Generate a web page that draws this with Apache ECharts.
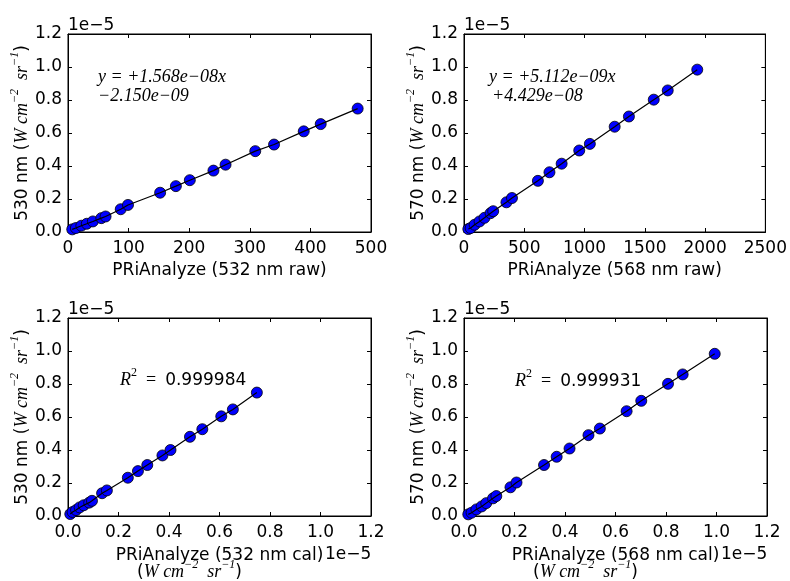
<!DOCTYPE html>
<html>
<head>
<meta charset="utf-8">
<script src="https://cdn.jsdelivr.net/npm/echarts@6/dist/echarts.min.js"></script>
<style>html,body{margin:0;padding:0;background:#fff;}#c{width:790px;height:581px;}</style>
</head>
<body>
<div id="c"></div>
<script>
// values in units of 1e-5 W cm^-2 sr^-1 unless raw
const raw532 = [7, 13, 22, 31, 41, 55, 62, 87, 99, 152, 178, 201, 240, 260, 309, 340, 389, 417, 478];
const y530   = [0.016, 0.024, 0.038, 0.050, 0.064, 0.084, 0.094, 0.138, 0.164, 0.238, 0.278, 0.314, 0.372, 0.408, 0.490, 0.530, 0.610, 0.654, 0.748];
const raw568 = [36, 55, 88, 129, 170, 220, 242, 352, 398, 613, 709, 810, 956, 1044, 1250, 1368, 1574, 1690, 1935];
const y570   = [0.018, 0.024, 0.044, 0.064, 0.086, 0.114, 0.126, 0.180, 0.206, 0.310, 0.362, 0.414, 0.494, 0.534, 0.638, 0.700, 0.802, 0.858, 0.984];
const cal532 = [0.009, 0.018, 0.032, 0.046, 0.062, 0.084, 0.095, 0.135, 0.154, 0.237, 0.277, 0.314, 0.374, 0.406, 0.483, 0.532, 0.607, 0.653, 0.748];
const y530c  = [0.012, 0.024, 0.036, 0.052, 0.065, 0.081, 0.092, 0.138, 0.155, 0.232, 0.272, 0.309, 0.367, 0.400, 0.480, 0.526, 0.604, 0.646, 0.748];
const cal568 = [0.017, 0.030, 0.049, 0.070, 0.088, 0.115, 0.128, 0.184, 0.208, 0.317, 0.367, 0.418, 0.493, 0.538, 0.644, 0.702, 0.808, 0.866, 0.993];
const y570c  = [0.010, 0.020, 0.040, 0.058, 0.078, 0.107, 0.121, 0.174, 0.203, 0.309, 0.359, 0.409, 0.490, 0.530, 0.635, 0.698, 0.801, 0.858, 0.983];

const xTicksTop1 = {min: 0, max: 500, interval: 100};
const xTicksTop2 = {min: 0, max: 2500, interval: 500};
const calTicks = {min: 0, max: 1.2, interval: 0.2};
const yLabel530 = '530 nm';
const yLabel570 = '570 nm';
// unit W cm^-2 sr^-1 written as rich-text tokens
const unitRichText = '{m|W cm}{sup|−2}{m|  sr}{sup|−1}';
const xNames = ['PRiAnalyze (532 nm raw)', 'PRiAnalyze (568 nm raw)', 'PRiAnalyze (532 nm cal)', 'PRiAnalyze (568 nm cal)'];
const fitTexts = [['y = +1.568e−08x', '−2.150e−09'], ['y = +5.112e−09x', '+4.429e−08']];
const r2Values = ['0.999984', '0.999931'];
const offsetText = '1e−5';

const SANS = 'DejaVu Sans';
const MATH = 'Liberation Serif';
const FS = 17;
const grids = [
  {left: 68, top: 34, width: 303, height: 198},
  {left: 464, top: 34, width: 303, height: 198},
  {left: 68, top: 318, width: 303, height: 198},
  {left: 464, top: 318, width: 303, height: 198}
];

const unitRich = {
  s: {fontFamily: SANS, fontSize: FS, color: '#000', lineHeight: 22, verticalAlign: 'bottom'},
  m: {fontFamily: MATH, fontStyle: 'italic', fontSize: 18, color: '#000', lineHeight: 22, verticalAlign: 'bottom'},
  sup: {fontFamily: MATH, fontStyle: 'italic', fontSize: 12, color: '#000', lineHeight: 14, verticalAlign: 'top'}
};

const chart = echarts.init(document.getElementById('c'));
const xTicks = [xTicksTop1, xTicksTop2, calTicks, calTicks];
const xs = [raw532, raw568, cal532, cal568];
const ys = [y530, y570, y530c, y570c];
const yNames = [yLabel530, yLabel570, yLabel530, yLabel570];

function fmt(v, dec) { return dec ? v.toFixed(1) : String(Math.round(v)); }

const xAxes = [], yAxes = [], series = [];
for (let i = 0; i < 4; i++) {
  const t = xTicks[i];
  const dec = i >= 2;
  xAxes.push({
    type: 'value', gridIndex: i, min: t.min, max: t.max, interval: t.interval, position: 'bottom',
    name: xNames[i], nameLocation: 'middle', nameGap: dec ? 31 : 30,
    nameTextStyle: {fontFamily: SANS, fontSize: FS, color: '#000'},
    axisLine: {show: true, onZero: false, lineStyle: {color: '#000', width: 1}},
    axisTick: {show: true, inside: true, length: 4, lineStyle: {color: '#000'}},
    axisLabel: {fontFamily: SANS, fontSize: FS, color: '#000', margin: 8, formatter: v => fmt(v, dec), showMaxLabel: true, showMinLabel: true},
    splitLine: {show: false}
  });
  xAxes.push({
    type: 'value', gridIndex: i, min: t.min, max: t.max, interval: t.interval, position: 'top',
    axisLine: {show: true, onZero: false, lineStyle: {color: '#000', width: 1}},
    axisTick: {show: true, inside: true, length: 4, lineStyle: {color: '#000'}},
    axisLabel: {show: false}, splitLine: {show: false}
  });
  yAxes.push({
    type: 'value', gridIndex: i, min: 0, max: 1.2, interval: 0.2, position: 'left',
    name: '{s|' + yNames[i] + ' (}' + unitRichText + '{s|)}',
    nameLocation: 'middle', nameGap: 36,
    nameTextStyle: {rich: unitRich},
    axisLine: {show: true, onZero: false, lineStyle: {color: '#000', width: 1}},
    axisTick: {show: true, inside: true, length: 4, lineStyle: {color: '#000'}},
    axisLabel: {fontFamily: SANS, fontSize: FS, color: '#000', margin: 6, formatter: v => v.toFixed(1)},
    splitLine: {show: false}
  });
  yAxes.push({
    type: 'value', gridIndex: i, min: 0, max: 1.2, interval: 0.2, position: 'right',
    axisLine: {show: true, onZero: false, lineStyle: {color: '#000', width: 1}},
    axisTick: {show: true, inside: true, length: 4, lineStyle: {color: '#000'}},
    axisLabel: {show: false}, splitLine: {show: false}
  });
  const pts = xs[i].map((x, k) => [x, ys[i][k]]);
  series.push({
    type: 'scatter', xAxisIndex: 2 * i, yAxisIndex: 2 * i, data: pts,
    symbol: 'circle', symbolSize: 11,
    itemStyle: {color: '#0000ff', borderColor: '#000', borderWidth: 0.8, opacity: 1},
    z: 2, silent: true
  });
  series.push({
    type: 'line', xAxisIndex: 2 * i, yAxisIndex: 2 * i, data: pts.slice().sort((a, b) => a[0] - b[0]),
    showSymbol: false, symbol: 'none', lineStyle: {color: '#000', width: 1.2}, z: 3, silent: true, animation: false
  });
}

const graphics = [];
function txt(x, y, style) {
  graphics.push({type: 'text', left: x, top: y, silent: true, style: Object.assign({fill: '#000'}, style)});
}
const sansFont = FS + 'px "' + SANS + '"';
// offset texts
[[68, 17], [464, 17], [68, 301], [464, 301]].forEach(p => txt(p[0], p[1], {text: offsetText, font: sansFont}));
txt(325, 546, {text: offsetText, font: sansFont});
txt(721, 546, {text: offsetText, font: sansFont});
// second-line unit labels under bottom x axes
txt(137, 559, {text: '{s|(}' + unitRichText + '{s|)}', rich: unitRich});
txt(533, 559, {text: '{s|(}' + unitRichText + '{s|)}', rich: unitRich});
// fit equations
const eqFont = 'italic 18px "' + MATH + '"';
txt(98, 68, {text: fitTexts[0][0], font: eqFont});
txt(98, 87, {text: fitTexts[0][1], font: eqFont});
txt(489, 68, {text: fitTexts[1][0], font: eqFont});
txt(492, 87, {text: fitTexts[1][1], font: eqFont});
// R^2
const r2rich = {
  r: {fontFamily: MATH, fontStyle: 'italic', fontSize: 18, lineHeight: 22, verticalAlign: 'bottom'},
  sup: {fontFamily: MATH, fontSize: 12, lineHeight: 14, verticalAlign: 'top'},
  e: {fontFamily: MATH, fontSize: 18, lineHeight: 22, verticalAlign: 'bottom'},
  n: {fontFamily: SANS, fontSize: FS, lineHeight: 22, verticalAlign: 'bottom'}
};
txt(120, 367, {text: '{r|R}{sup|2}{e|  =  }{n|' + r2Values[0] + '}', rich: r2rich});
txt(515, 368, {text: '{r|R}{sup|2}{e|  =  }{n|' + r2Values[1] + '}', rich: r2rich});

chart.setOption({
  animation: false,
  backgroundColor: '#fff',
  grid: grids.map(g => Object.assign({show: true, borderColor: '#000', borderWidth: 1, containLabel: false}, g)),
  xAxis: xAxes,
  yAxis: yAxes,
  series: series,
  graphic: graphics
});
</script>
</body>
</html>
